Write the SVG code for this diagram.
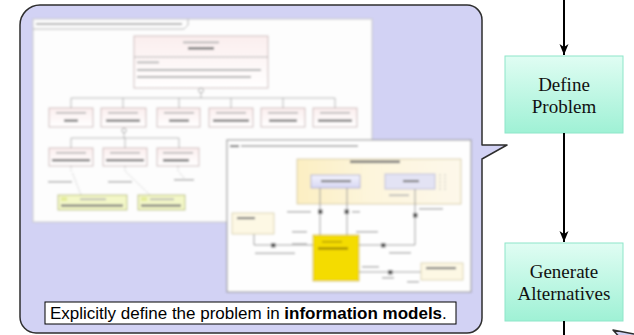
<svg xmlns="http://www.w3.org/2000/svg" width="634" height="335" viewBox="0 0 634 335">
  <defs>
    <style>
      .step { stroke: #8ee6c9; stroke-width: 1; }
      .step-label { font-family: "Liberation Serif", "Times New Roman", serif; font-size: 19px; fill: #111; text-anchor: middle; }
      .flow { stroke: #000; stroke-width: 2; fill: none; }
      .callout { fill: #d2d2f4; stroke: #2e2e2e; stroke-width: 1.5; stroke-linejoin: round; }
      .caption-box { fill: #fff; stroke: #000; stroke-width: 1; }
      .caption { font-family: "Liberation Sans", Arial, sans-serif; font-size: 17px; fill: #000; }
      .shot { fill: #fdfdfd; stroke: #c8c8c8; stroke-width: 1; }
      .shot2 { fill: #fefefe; stroke: #8a8a8a; stroke-width: 1; }
      .req { fill: url(#reqFill); stroke: #c4b0b0; stroke-width: 0.8; }
      .tc { fill: #f3f7c8; stroke: #b0b66e; stroke-width: 0.8; }
      .blk { fill: #fdf8e4; stroke: #d4cba6; stroke-width: 0.8; }
      .wire { stroke: #a6a6a6; stroke-width: 0.8; fill: none; }
      .dwire { stroke: #b2b2b2; stroke-width: 0.7; fill: none; stroke-dasharray: 2 1.5; }
      .iwire { stroke: #939393; stroke-width: 0.9; fill: none; }
      .tx { fill: #b4b4b4; }
      .tb { fill: #7c7c7c; }
      .port { fill: #5a5a5a; }
    </style>
    <linearGradient id="stepFill" x1="0" y1="0" x2="0" y2="1">
      <stop offset="0" stop-color="#e0fdf3"/>
      <stop offset="1" stop-color="#9ff1d5"/>
    </linearGradient>
    <linearGradient id="reqFill" x1="0" y1="0" x2="0" y2="1">
      <stop offset="0" stop-color="#fbeeee"/>
      <stop offset="1" stop-color="#ffffff"/>
    </linearGradient>
    <linearGradient id="ibdFill" x1="0" y1="0" x2="1" y2="0">
      <stop offset="0" stop-color="#fcefc2"/>
      <stop offset="0.45" stop-color="#fdf5dc"/>
      <stop offset="1" stop-color="#fdf8ea"/>
    </linearGradient>
    <linearGradient id="partFill" x1="0" y1="0" x2="0" y2="1">
      <stop offset="0" stop-color="#f2f2fc"/>
      <stop offset="1" stop-color="#d8d8f4"/>
    </linearGradient>
    <filter id="soft" x="-5%" y="-5%" width="110%" height="110%">
      <feGaussianBlur stdDeviation="0.8"/>
    </filter>
    <marker id="arrow" markerUnits="userSpaceOnUse" markerWidth="12" markerHeight="12" viewBox="0 0 12 12" refX="11" refY="6" orient="auto">
      <path d="M0,1.5 L11,6 L0,10.5 L3,6 Z" fill="#000"/>
    </marker>
  </defs>

  <!-- callout with the information-model views -->
  <g id="model-note">
    <path class="callout" d="M40,5 H467 A15,15 0 0 1 482,20 V145 L507,145 L482,159 V318 A15,15 0 0 1 467,333 H36 A16,16 0 0 1 20,317 V25 A20,20 0 0 1 40,5 Z"/>

    <!-- requirements diagram view -->
    <g id="requirements-view" filter="url(#soft)">
      <rect class="shot" x="33" y="19" width="339" height="203"/>
      <path class="wire" d="M33,29 H184 L188,25 V19"/>
      <rect class="tx" x="36" y="23" width="146" height="2"/>

      <!-- top requirement -->
      <rect class="req" x="134" y="36" width="134" height="52"/>
      <line class="wire" x1="134" y1="57" x2="268" y2="57"/>
      <rect class="tx" x="183" y="41.5" width="36" height="1.8"/>
      <rect class="tb" x="188" y="47" width="26" height="2.6"/>
      <rect class="tx" x="137" y="61.5" width="22" height="1.8"/>
      <rect class="tx" x="137" y="69" width="124" height="2"/>
      <rect class="tx" x="137" y="76" width="114" height="2"/>
      <circle cx="201" cy="90.5" r="2.4" fill="#fff" stroke="#8a8a8a" stroke-width="0.7"/>
      <path class="wire" d="M201,93 V98 M71,98 H335 M71,98 V108 M123,98 V108 M179,98 V108 M231,98 V108 M283,98 V108 M335,98 V108"/>

      <!-- first requirement row -->
      <g>
        <rect class="req" x="49" y="108" width="44" height="19"/>
        <rect class="tx" x="56" y="112" width="30" height="1.6"/>
        <rect class="tb" x="64" y="119.5" width="14" height="2.4"/>
        <rect class="req" x="101" y="108" width="45" height="19"/>
        <rect class="tx" x="108" y="112" width="30" height="1.6"/>
        <rect class="tb" x="106" y="119.5" width="34" height="2.4"/>
        <rect class="req" x="157" y="108" width="43" height="19"/>
        <rect class="tx" x="164" y="112" width="30" height="1.6"/>
        <rect class="tb" x="169" y="119.5" width="20" height="2.4"/>
        <rect class="req" x="209" y="108" width="44" height="19"/>
        <rect class="tx" x="216" y="112" width="30" height="1.6"/>
        <rect class="tb" x="213" y="119.5" width="36" height="2.4"/>
        <rect class="req" x="261" y="108" width="44" height="19"/>
        <rect class="tx" x="268" y="112" width="30" height="1.6"/>
        <rect class="tb" x="269" y="119.5" width="28" height="2.4"/>
        <rect class="req" x="313" y="108" width="44" height="19"/>
        <rect class="tx" x="320" y="112" width="30" height="1.6"/>
        <rect class="tb" x="318" y="119.5" width="34" height="2.4"/>
      </g>
      <circle cx="124" cy="130.5" r="2.2" fill="#fff" stroke="#8a8a8a" stroke-width="0.7"/>
      <path class="wire" d="M124,133 V138 M71,138 H179 M71,138 V148 M125,138 V148 M179,138 V148"/>

      <!-- second requirement row -->
      <rect class="req" x="49" y="148" width="44" height="18"/>
      <rect class="tx" x="56" y="152" width="30" height="1.6"/>
      <rect class="tb" x="52" y="159" width="38" height="2.4"/>
      <rect class="req" x="103" y="148" width="44" height="18"/>
      <rect class="tx" x="110" y="152" width="30" height="1.6"/>
      <rect class="tb" x="106" y="159" width="38" height="2.4"/>
      <rect class="req" x="157" y="148" width="42" height="18"/>
      <rect class="tx" x="163" y="152" width="30" height="1.6"/>
      <rect class="tb" x="163" y="159" width="26" height="2.6"/>

      <!-- verify dependencies -->
      <path class="dwire" d="M71,166 V171 M125,166 V171 M178,166 V171 M81,195 L72,172 M150,195 L126,172 M184,178 L179,172"/>
      <rect class="tx" x="48" y="181" width="24" height="1.6"/>
      <rect class="tx" x="108" y="181" width="24" height="1.6"/>
      <rect class="tx" x="174" y="179" width="20" height="1.6"/>

      <!-- test cases -->
      <rect class="tc" x="58" y="195" width="69" height="15"/>
      <rect x="61" y="197" width="6" height="4" fill="#e4ec9a"/>
      <rect class="tx" x="80" y="198.5" width="26" height="1.6"/>
      <rect class="tb" x="61" y="204.5" width="62" height="2.2"/>
      <rect class="tc" x="138" y="195" width="47" height="15"/>
      <rect x="141" y="197" width="6" height="4" fill="#e4ec9a"/>
      <rect class="tx" x="150" y="198.5" width="24" height="1.6"/>
      <rect class="tb" x="141" y="204.5" width="40" height="2.2"/>
    </g>

    <!-- internal block diagram view -->
    <g id="structure-view" filter="url(#soft)">
      <rect class="shot2" x="227" y="140" width="244" height="152"/>
      <rect class="tb" x="230" y="145" width="9" height="2.2"/>
      <rect class="tx" x="241" y="145" width="117" height="2"/>

      <rect x="297" y="159" width="164" height="45" fill="url(#ibdFill)" stroke="#cfc49a" stroke-width="0.8"/>
      <rect class="tb" x="350" y="160.5" width="50" height="2.6"/>
      <rect x="311" y="175" width="49" height="13" fill="url(#partFill)" stroke="#a8a8cc" stroke-width="0.8"/>
      <rect class="tb" x="321" y="180" width="30" height="2.2"/>
      <rect x="385" y="174" width="50" height="15" fill="#e3e3f4" stroke="#b6b6d2" stroke-width="0.8"/>
      <rect class="tb" x="403" y="180" width="16" height="2.2"/>
      <path class="dwire" d="M440,174 V191 M445,174 V191"/>
      <rect class="tx" x="389" y="194.5" width="20" height="1.6"/>

      <!-- connectors inside the view -->
      <path class="iwire" d="M320,188 V235 M347,188 V235 M415,189 V245 H359 M254,234 V245 H313 M359,272 H421"/>
      <rect class="port" x="318" y="209.5" width="4.5" height="4.5"/>
      <rect class="port" x="344.5" y="209.5" width="4.5" height="4.5"/>
      <rect class="port" x="413" y="213" width="4.5" height="4.5"/>
      <rect class="port" x="271" y="243" width="4.5" height="4.5"/>
      <rect class="port" x="381" y="243" width="4.5" height="4.5"/>
      <rect class="port" x="388" y="270" width="4.5" height="4.5"/>
      <rect class="tx" x="287" y="211" width="24" height="1.6"/>
      <rect class="tx" x="352" y="211" width="8" height="1.6"/>
      <rect class="tx" x="419" y="208" width="24" height="1.6"/>
      <rect class="tx" x="292" y="231" width="15" height="1.6"/>
      <rect class="tx" x="292" y="243" width="15" height="1.6"/>
      <rect class="tx" x="356" y="231" width="22" height="1.6"/>
      <rect class="tx" x="255" y="252.5" width="40" height="1.6"/>
      <rect class="tx" x="389" y="252" width="22" height="1.6"/>
      <rect class="tx" x="362" y="266" width="17" height="1.6"/>
      <rect class="tx" x="382" y="277" width="12" height="1.6"/>
      <rect class="tx" x="407" y="281" width="12" height="1.6"/>

      <rect class="blk" x="232" y="213" width="42" height="21"/>
      <rect class="tb" x="237" y="217" width="18" height="2.2"/>
      <rect x="313" y="235" width="46" height="46" fill="#f4dc06" stroke="#cdb700" stroke-width="0.8"/>
      <rect x="322" y="241" width="20" height="1.6" fill="#bca400"/>
      <rect x="318" y="247.5" width="30" height="2" fill="#978200"/>
      <rect class="blk" x="421" y="263" width="42" height="17"/>
      <rect class="tb" x="426" y="267" width="30" height="2.2"/>
    </g>

    <rect class="caption-box" x="45" y="302" width="411" height="22"/>
    <text class="caption" x="50" y="318.5">Explicitly define the problem in <tspan font-weight="bold">information models</tspan>.</text>
  </g>

  <!-- second callout, reaching in from below -->
  <g id="next-note">
    <path class="callout" d="M622,340 L613,330 L640,335"/>
  </g>

  <!-- process steps -->
  <g id="define-problem">
    <rect class="step" x="505" y="56" width="118" height="77" fill="url(#stepFill)"/>
    <text class="step-label" x="564" y="91">Define</text>
    <text class="step-label" x="564" y="113">Problem</text>
  </g>
  <g id="generate-alternatives">
    <rect class="step" x="505" y="243" width="118" height="78" fill="url(#stepFill)"/>
    <text class="step-label" x="564" y="278">Generate</text>
    <text class="step-label" x="564" y="300">Alternatives</text>
  </g>

  <!-- flow between steps -->
  <g id="connectors">
    <line class="flow" x1="564" y1="0" x2="564" y2="55" marker-end="url(#arrow)"/>
    <line class="flow" x1="564" y1="133" x2="564" y2="242" marker-end="url(#arrow)"/>
    <line class="flow" x1="564" y1="321" x2="564" y2="335"/>
  </g>
</svg>
